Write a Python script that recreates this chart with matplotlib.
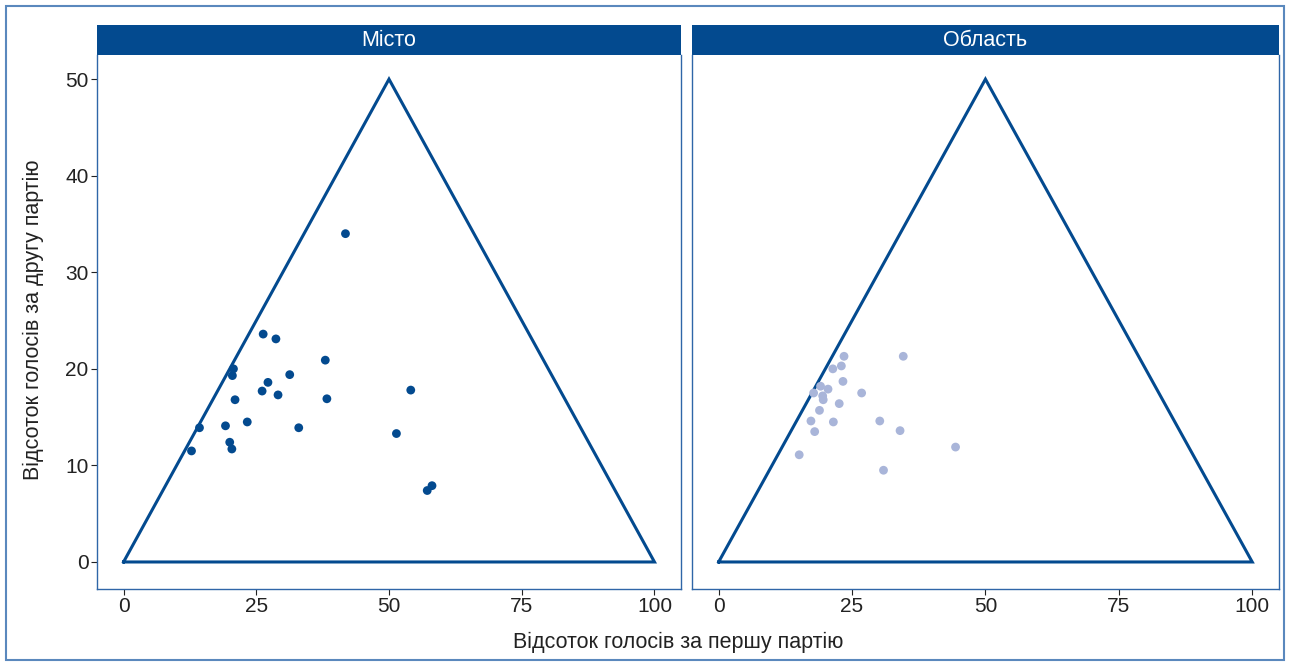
import matplotlib.pyplot as plt
import matplotlib.patches as mpatches

plt.rcParams['font.family'] = ['Liberation Sans', 'DejaVu Sans']

# Місто
city_x = [41.8, 26.3, 28.7, 38.0, 20.7, 20.5, 31.3, 27.2, 26.1, 29.1, 38.3, 21.0,
          54.1, 14.3, 19.2, 23.3, 33.0, 51.4, 20.0, 20.4, 12.8, 58.1, 57.2]
city_y = [34.0, 23.6, 23.1, 20.9, 20.0, 19.3, 19.4, 18.6, 17.7, 17.3, 16.9, 16.8,
          17.8, 13.9, 14.1, 14.5, 13.9, 13.3, 12.4, 11.7, 11.5, 7.9, 7.4]

# Область
region_x = [23.5, 34.6, 21.4, 23.0, 23.3, 19.1, 20.5, 17.8, 26.8, 19.5, 19.6,
            22.6, 18.9, 17.3, 21.5, 30.2, 18.0, 34.0, 44.4, 15.1, 30.9]
region_y = [21.3, 21.3, 20.0, 20.3, 18.7, 18.2, 17.9, 17.5, 17.5, 17.2, 16.8,
            16.4, 15.7, 14.6, 14.5, 14.6, 13.5, 13.6, 11.9, 11.1, 9.5]

tri_x = [0, 50, 100, 0]
tri_y = [0, 50, 0, 0]

panels = ['Місто', 'Область']
xticks = [0, 25, 50, 75, 100]
yticks = [0, 10, 20, 30, 40, 50]

DARK = '#034a8f'
LIGHT = '#a9b5d9'
SPINE = '#2f66a8'

fig = plt.figure(figsize=(12.9, 6.66), dpi=100)
ax1 = fig.add_axes([0.0752, 0.1156, 0.4527, 0.8018])
ax2 = fig.add_axes([0.5364, 0.1156, 0.455, 0.8018])

data = [(city_x, city_y, DARK), (region_x, region_y, LIGHT)]

for ax, title, (xs, ys, col) in zip([ax1, ax2], panels, data):
    ax.plot(tri_x, tri_y, color=DARK, lw=2.2, solid_joinstyle='miter')
    ax.scatter(xs, ys, s=40, color=col, edgecolors='none', zorder=3)
    ax.set_xlim(-5, 105)
    ax.set_ylim(-2.8, 52.5)
    ax.set_xticks(xticks)
    ax.set_yticks(yticks)
    ax.tick_params(labelsize=15, colors='#222222', length=4, width=0.8, pad=2)
    for s in ['left', 'right', 'bottom']:
        ax.spines[s].set_color(SPINE)
        ax.spines[s].set_linewidth(1.0)
    ax.spines['top'].set_visible(False)
    # facet strip
    strip = mpatches.Rectangle((0, 1.0), 1, 30 / 534, transform=ax.transAxes,
                               facecolor=DARK, edgecolor='none', clip_on=False)
    ax.add_patch(strip)
    ax.text(0.5, 1.0 + 15 / 534, title, transform=ax.transAxes, ha='center',
            va='center', color='white', fontsize=15.5)

ax2.set_yticks([])

fig.text(0.526, 0.036, 'Відсоток голосів за першу партію', ha='center',
         va='center', fontsize=15.5, color='#222222')
fig.text(0.026, 0.52, 'Відсоток голосів за другу партію', ha='center',
         va='center', rotation=90, fontsize=15.5, color='#222222')

# outer frame
frame = mpatches.Rectangle((6 / 1290, 6 / 666), 1 - 12 / 1290, 1 - 12 / 666,
                           transform=fig.transFigure, facecolor='none',
                           edgecolor='#5a88bd', lw=1.5)
fig.patches.append(frame)

fig.savefig('out.png', dpi=100)
